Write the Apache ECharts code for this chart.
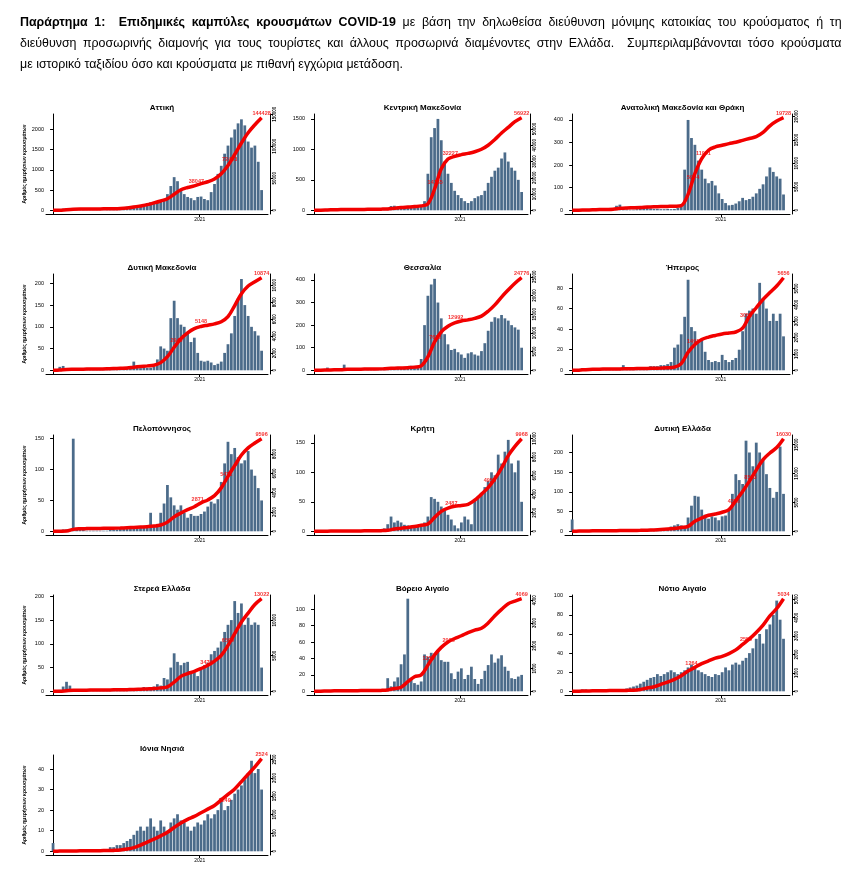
<!DOCTYPE html>
<html><head><meta charset="utf-8">
<script src="https://cdn.jsdelivr.net/npm/echarts@6/dist/echarts.min.js"></script>
<style>
html,body{margin:0;padding:0;background:#fff;}
#chart{position:absolute;left:0;top:0;width:861px;height:881px;}
#hdr{position:absolute;left:20px;top:11px;width:893px;transform:scaleX(0.92);transform-origin:0 0;font-family:'Liberation Sans',Arial,sans-serif;color:#000;}
.ln{line-height:21px;text-align:justify;text-align-last:justify;}
.ln.last{text-align-last:left;}
</style></head><body>
<div id="chart"></div>
<div id="hdr">
<div class="ln"><b>Παράρτημα 1:&nbsp; Επιδημικές καμπύλες κρουσμάτων COVID-19</b> με βάση την δηλωθείσα διεύθυνση μόνιμης κατοικίας του κρούσματος ή τη</div>
<div class="ln">διεύθυνση προσωρινής διαμονής για τους τουρίστες και άλλους προσωρινά διαμένοντες στην Ελλάδα. &nbsp;Συμπεριλαμβάνονται τόσο κρούσματα</div>
<div class="ln last">με ιστορικό ταξιδίου όσο και κρούσματα με πιθανή εγχώρια μετάδοση.</div>
</div>
<script>
// ---------- DATA (weekly bins, daily case level; cumulative every 2 weeks) ----------
const regionNames = ['Αττική','Κεντρική Μακεδονία','Ανατολική Μακεδονία και Θράκη','Δυτική Μακεδονία','Θεσσαλία','Ήπειρος','Πελοπόννησος','Κρήτη','Δυτική Ελλάδα','Στερεά Ελλάδα','Βόρειο Αιγαίο','Νότιο Αιγαίο','Ιόνια Νησιά'];
const yAxisName = 'Αριθμός ημερήσιων κρουσμάτων';
const xTickLabel = '2021';
const xTickWeek = 43.6;

const casesAttiki = [2,10,25,40,45,40,30,20,15,10,5,5,5,5,5,5,8,10,15,20,30,60,90,100,110,120,130,150,180,200,210,220,210,250,400,600,820,720,520,400,330,300,250,330,340,280,250,450,650,900,1100,1400,1600,1800,2000,2150,2250,2100,1700,1550,1600,1200,500];
const cumAttiki = [0,200,1000,1600,1900,2000,2100,2200,2300,2500,2900,3700,5000,6800,8800,11500,14500,18000,25000,32000,35500,38000,41500,44500,49000,57000,70000,87000,105000,121000,133500,144428];
const labelsAttiki = [[42.6,'38047'],[52.5,'72453'],[62,'144428']];

const casesKMak = [0,3,8,12,12,10,8,5,3,2,2,2,2,3,4,5,6,8,10,12,15,20,40,70,75,60,40,50,60,40,40,50,70,150,600,1200,1350,1500,1150,800,600,450,320,250,200,150,120,150,200,230,250,320,450,550,650,700,850,950,800,700,650,500,300];
const cumKMak = [0,50,200,350,450,480,500,530,570,620,700,850,1300,1700,2000,2300,2700,4000,13000,25500,31500,33200,34200,35000,36000,37500,40000,43500,47500,51000,54500,56922];
const labelsKMak = [[36.2,'14185'],[40.7,'32227'],[62,'56922']];

const casesAMTh = [1,2,3,3,3,3,3,2,2,2,2,3,8,20,25,8,4,3,3,5,10,15,12,8,6,6,5,5,6,5,6,10,20,180,400,320,290,220,180,140,120,130,110,75,50,32,22,24,30,40,55,45,50,60,75,95,115,150,190,170,150,140,70];
const cumAMTh = [0,20,60,110,150,180,230,420,500,530,580,680,750,800,830,870,1000,3400,7800,11000,12800,13500,13850,14200,14500,14900,15300,15700,16600,18000,19000,19728];
const labelsAMTh = [[35.5,'5974'],[38.5,'11051'],[62,'19728']];

const casesDMak = [0,2,8,10,4,2,2,1,1,1,1,1,1,1,1,1,2,3,6,3,3,3,4,5,20,6,5,12,6,6,8,25,55,50,45,120,160,120,105,100,85,65,75,40,22,20,22,18,12,15,20,40,60,85,125,165,210,150,125,100,90,80,45];
const cumDMak = [0,40,100,120,130,140,150,160,170,200,240,280,370,450,520,600,900,1600,2700,3700,4400,4900,5150,5300,5450,5700,6300,7600,9000,9900,10400,10874];
const labelsDMak = [[36.7,'2946'],[44,'5148'],[62,'10874']];

const casesThes = [0,1,2,4,12,4,2,2,5,25,3,1,1,1,1,1,2,2,3,4,6,10,10,8,6,6,6,8,10,20,15,15,50,200,330,380,405,300,230,160,115,90,95,80,70,55,75,80,70,65,85,120,175,215,235,230,245,230,220,200,190,180,100];
const cumThes = [0,20,80,130,170,280,300,310,320,340,380,480,560,620,700,850,1200,3600,7600,10300,11800,12700,13200,13500,13900,14500,15800,17500,19600,21500,23300,24776];
const labelsThes = [[36.2,'7612'],[42.3,'12992'],[62,'24776']];

const casesIpir = [0,0.5,1,2,2,1.5,1,0.5,0.5,0.5,0.5,0.5,0.5,0.5,1,5,1,1,1,1,1,2,3,4,4,4,5,5,6,8,22,25,35,52,88,42,38,28,30,18,10,8,9,8,15,10,8,10,12,20,38,55,58,60,55,85,70,60,48,55,48,55,33];
const cumIpir = [0,10,40,60,70,75,80,85,95,100,105,115,125,135,150,190,410,1100,1580,1880,2030,2130,2220,2280,2340,2570,3300,3820,4330,4750,5150,5656];
const labelsIpir = [[35.5,'1491'],[51,'3051'],[62,'5656']];

const casesPelo = [0,1,2,3,3,3,150,3,2,2,1,1,1,1,1,1,1,2,2,3,4,5,7,5,6,7,6,7,8,30,9,12,30,45,75,55,42,35,42,30,22,28,25,25,28,32,40,48,45,52,80,110,145,125,135,120,110,115,130,100,90,70,50];
const cumPelo = [0,10,30,200,260,280,290,300,310,320,340,370,400,440,480,540,650,950,1500,1900,2250,2550,2950,3250,3700,4500,5700,6800,7900,8650,9150,9596];
const labelsPelo = [[43,'2871'],[51.5,'5471'],[62,'9596']];

const casesKrit = [0,0,1,1,1,1,1,0.5,0.5,0.5,0.5,0.5,0.5,0.5,0.5,1,1,1,2,2,3,5,12,25,15,18,15,11,10,9,8,8,10,15,25,58,55,50,42,35,28,20,10,5,15,25,20,12,55,60,65,75,85,100,95,130,115,135,155,115,100,120,50];
const cumKrit = [0,5,15,25,30,35,40,45,50,60,70,110,250,330,420,520,650,780,1500,2150,2500,2700,2780,2900,3350,4000,4700,5650,6800,8150,9150,9968];
const labelsKrit = [[41,'2487'],[52.5,'4958'],[62,'9968']];

const casesDEll = [30,1,1,2,2,2,1,1,1,1,1,1,1,1,1,1,1,1,1,1,2,2,3,3,4,4,5,6,8,12,15,18,15,12,35,65,90,88,55,42,32,38,35,28,38,40,55,95,145,130,120,230,200,165,225,200,180,145,110,85,100,215,95];
const cumDEll = [0,40,60,80,90,100,110,120,130,140,160,190,230,290,380,500,650,850,1730,2310,2770,3000,3290,3750,5300,6900,8700,10600,12400,13550,14500,16030];
const labelsDEll = [[47.4,'4356'],[52.3,'8593'],[62,'16030']];

const casesSter = [0,1,3,10,20,12,2,1,1,1,1,1,1,1,1,1,1,2,3,2,2,3,3,4,5,5,6,9,8,8,10,15,12,28,25,50,80,62,55,60,62,38,40,32,48,55,60,78,85,92,105,125,140,150,190,165,185,140,155,140,145,140,50];
const cumSter = [0,10,80,140,150,160,170,180,190,200,210,230,250,290,330,380,480,610,1300,2100,2500,2800,3200,3650,4250,5050,6450,8100,9750,11000,12200,13022];
const labelsSter = [[45.6,'3479'],[52,'6509'],[62,'13022']];

const casesBAig = [0,0,1,1,1,1,0.5,0.5,0.5,0.5,0.5,0.5,0.5,0.5,0.5,0.5,0.5,0.5,1,1,1,2,16,6,12,17,33,45,113,15,10,8,12,45,42,47,46,50,38,36,36,22,15,24,28,15,20,30,15,9,15,25,32,45,35,40,44,30,25,16,15,18,20];
const cumBAig = [0,5,15,20,22,25,27,30,32,35,40,60,120,180,420,640,720,1150,1600,1930,2170,2320,2440,2580,2690,2770,3000,3320,3600,3850,3960,4069];
const labelsBAig = [[34.2,'1250'],[40.2,'2026'],[62,'4069']];

const casesNAig = [0,1,1,2,2,1,1,1,0.5,0.5,0.5,0.5,0.5,0.5,1,2,3,4,5,6,8,10,12,14,15,18,16,18,20,22,20,18,20,22,25,28,25,22,20,18,16,15,18,17,20,25,22,28,30,28,32,35,40,45,55,60,50,65,70,80,95,75,55];
const cumNAig = [0,5,15,25,30,35,40,45,50,60,100,180,250,380,500,650,850,1100,1300,1500,1650,1800,1900,2050,2250,2550,2850,3200,3600,4100,4500,5034];
const labelsNAig = [[35,'1264'],[51,'2555'],[62,'5034']];

const casesIon = [4,0.5,0.5,0.5,0.5,0.5,0.5,0.5,0.5,0.5,0.5,0.5,0.5,0.5,0.5,0.5,0.5,2,2,3,3,4,5,6,8,10,12,10,12,16,12,10,15,12,10,14,16,18,15,14,12,10,12,14,13,15,18,16,18,20,26,20,22,25,28,30,32,35,38,44,38,40,30];
const cumIon = [0,5,8,10,12,14,16,18,20,25,35,60,100,170,250,330,420,520,650,770,870,950,1050,1150,1250,1400,1550,1700,1900,2100,2300,2524];
const labelsIon = [[51,'1249'],[62,'2524']];

// left-axis data maximum and tick step per region
const yDataMax = [2290,1520,410,213,410,90,150,157,235,195,113,97,45];
const yTickStep = [500,500,100,50,100,20,50,50,50,50,20,20,10];

// ---------- BUILD ----------
const panels = [
  [casesAttiki,cumAttiki,labelsAttiki],[casesKMak,cumKMak,labelsKMak],[casesAMTh,cumAMTh,labelsAMTh],
  [casesDMak,cumDMak,labelsDMak],[casesThes,cumThes,labelsThes],[casesIpir,cumIpir,labelsIpir],
  [casesPelo,cumPelo,labelsPelo],[casesKrit,cumKrit,labelsKrit],[casesDEll,cumDEll,labelsDEll],
  [casesSter,cumSter,labelsSter],[casesBAig,cumBAig,labelsBAig],[casesNAig,cumNAig,labelsNAig],
  [casesIon,cumIon,labelsIon]
];
const colLeft = [46,307,565], colWidth = [222,221,225];
const rowTop = [114,274,435,595,755], plotH = 100;
const FONT = "'Liberation Sans', Arial, sans-serif";
const BAR = '#4b6b8a', RED = '#f20000';
const plain = v => String(Math.round(v));

function niceStep(raw){
  const e = Math.pow(10, Math.floor(Math.log10(raw)));
  for (const m of [1,2,5,10]) if (m*e >= raw) return m*e;
}
const grid=[], title=[], xAxis=[], yAxis=[], series=[];
panels.forEach((p,k)=>{
  const [cases,cum,labels] = p;
  const col=k%3, row=Math.floor(k/3);
  const left=colLeft[col], width=colWidth[col], top=rowTop[row];
  grid.push({left, top, width, height:plotH});
  title.push({text:regionNames[k], left:left+width/2, top:top-15, textAlign:'center',
    textStyle:{fontSize:8, fontWeight:'bold', fontFamily:FONT, color:'#000'}});
  xAxis.push({gridIndex:k, type:'value', min:-2.1, max:63.9,
    axisLine:{show:true, onZero:false, lineStyle:{color:'#000', width:1}},
    axisTick:{show:true, length:3, customValues:[xTickWeek], lineStyle:{color:'#000'}},
    axisLabel:{customValues:[xTickWeek], formatter:()=>xTickLabel, fontSize:5, margin:3, color:'#000', fontFamily:FONT},
    splitLine:{show:false}});
  const yl=yDataMax[k], st=yTickStep[k];
  const lt=[]; for(let v=0; v<=yl*1.04+1e-9; v+=st) lt.push(v);
  const yL = {gridIndex:k, type:'value', position:'left', min:-0.04*yl, max:1.04*yl,
    axisLine:{show:true, lineStyle:{color:'#000', width:1}},
    axisTick:{show:true, length:3, customValues:lt, lineStyle:{color:'#000'}},
    axisLabel:{customValues:lt, formatter:plain, fontSize:5.5, margin:2, color:'#000', fontFamily:FONT},
    splitLine:{show:false}};
  if (col===0) Object.assign(yL, {name:yAxisName, nameLocation:'middle', nameGap:19,
    nameTextStyle:{fontSize:5, fontWeight:'bold', color:'#000', fontFamily:FONT}});
  yAxis.push(yL);
  const C = cum[cum.length-1];
  const rs = niceStep(C*1.08/5*0.8);
  const rt=[]; for(let v=0; v<=C*1.04+1e-9; v+=rs) rt.push(v);
  yAxis.push({gridIndex:k, type:'value', position:'right', offset:2, min:-0.04*C, max:1.04*C,
    axisLine:{show:true, lineStyle:{color:'#000', width:1}},
    axisTick:{show:true, length:3, customValues:rt, lineStyle:{color:'#000'}},
    axisLabel:{customValues:rt, formatter:plain, rotate:90, fontSize:4.5, fontWeight:'bold', margin:2, color:'#000', fontFamily:FONT},
    splitLine:{show:false}});
  series.push({type:'bar', xAxisIndex:k, yAxisIndex:2*k, data:cases.map((v,i)=>[i,v]),
    barWidth:'82%', itemStyle:{color:BAR}, z:2, silent:true});
  series.push({type:'scatter', xAxisIndex:k, yAxisIndex:2*k+1, data:labels.map(l=>[l[0], Number(l[1]), l[1]]),
    symbolSize:1, itemStyle:{color:'rgba(0,0,0,0)'}, z:3, silent:true,
    label:{show:true, position:'top', distance:1, formatter:q=>q.data[2], color:RED, fontSize:5.5, fontWeight:'bold', fontFamily:FONT}});
  series.push({type:'line', xAxisIndex:k, yAxisIndex:2*k+1, data:cum.map((v,j)=>[2*j,v]),
    smooth:0.35, symbol:'none', lineStyle:{color:RED, width:3.5}, z:4, silent:true});
});
const chart = echarts.init(document.getElementById('chart'), null, {renderer:'canvas'});
chart.setOption({animation:false, backgroundColor:'#fff', grid, title, xAxis, yAxis, series});

// fit header lines on one line each
document.querySelectorAll('#hdr .ln').forEach(el=>{
  let fs=13.5; el.style.fontSize=fs+'px';
  while(el.offsetHeight>24 && fs>8){ fs-=0.25; el.style.fontSize=fs+'px'; }
});
</script>
</body></html>
